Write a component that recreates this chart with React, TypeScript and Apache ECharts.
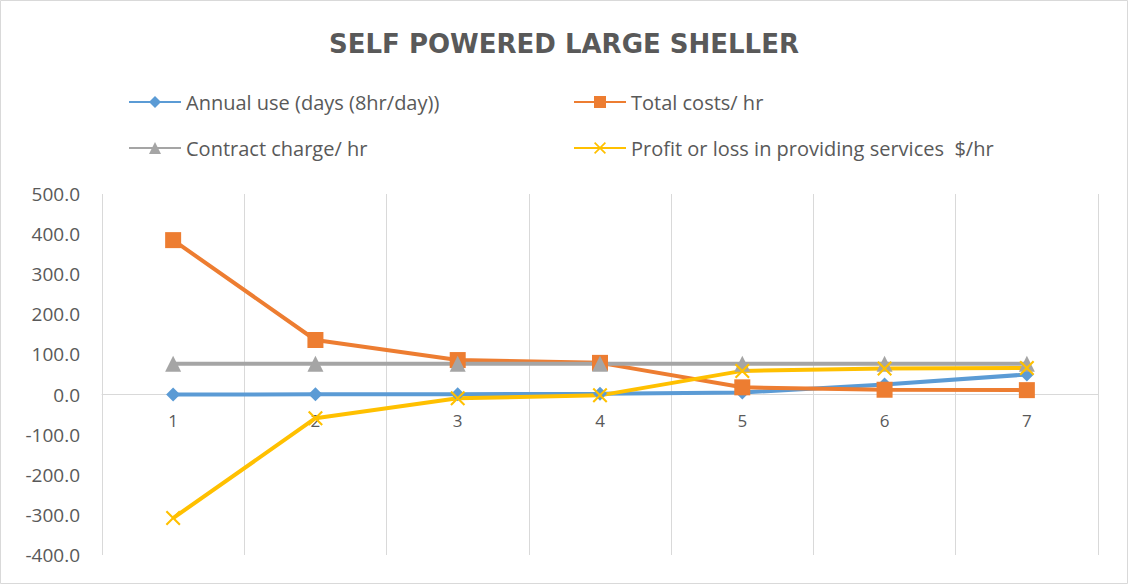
import React, { useEffect, useRef } from "react";
import * as echarts from "echarts";

const categories = ["1", "2", "3", "4", "5", "6", "7"];
const annualUse = [0, 0.5, 1, 2, 5, 25, 50];
const totalCosts = [385, 136, 86, 79, 18, 12, 11];
const contractCharge = [77, 77, 77, 77, 77, 77, 77];
const profitLoss = [-308, -59, -9, -2, 59, 65, 66];
const seriesNames = [
  "Annual use (days (8hr/day))",
  "Total costs/ hr",
  "Contract charge/ hr",
  "Profit or loss in providing services  $/hr",
];
const colors = ["#5B9BD5", "#ED7D31", "#A5A5A5", "#FFC000"];

const FONT = "'Open Sans', sans-serif";
const CROSS = "path://M0,1 L1,0 L5,4 L9,0 L10,1 L6,5 L10,9 L9,10 L5,6 L1,10 L0,9 L4,5 Z";

export default function App() {
  const ref = useRef<HTMLDivElement>(null);
  useEffect(() => {
    document.body.style.margin = "0";
    const chart = echarts.init(ref.current!, null, { renderer: "svg" });
    const legendPos = [
      { left: 128, top: 92 },
      { left: 573, top: 92 },
      { left: 128, top: 138 },
      { left: 573, top: 138 },
    ];
    chart.setOption({
      animation: false,
      title: {
        text: "SELF POWERED LARGE SHELLER",
        left: "center",
        top: 26,
        textStyle: { fontFamily: "'DejaVu Sans', sans-serif", fontWeight: "bold", fontSize: 26, color: "#595959" },
      },
      legend: seriesNames.map((n, i) => ({
        data: [n],
        ...legendPos[i],
        padding: 0,
        itemWidth: 52,
        itemHeight: 15,
        textStyle: { fontFamily: FONT, fontSize: 20, color: "#595959" },
      })),
      graphic: [
        {
          type: "rect",
          shape: { x: 0.5, y: 0.5, width: 1127, height: 583 },
          style: { fill: "none", stroke: "#d9d9d9", lineWidth: 1 },
        },
      ],
      grid: { left: 102, right: 30, top: 194, bottom: 29, containLabel: false },
      xAxis: {
        type: "category",
        data: categories,
        boundaryGap: true,
        axisLine: { onZero: true, lineStyle: { color: "#d9d9d9", width: 1 } },
        axisTick: { show: false },
        splitLine: { show: true, lineStyle: { color: "#d9d9d9", width: 1 } },
        axisLabel: { margin: -143, fontFamily: FONT, fontSize: 17, color: "#595959" },
      },
      yAxis: {
        type: "value",
        min: -400,
        max: 500,
        interval: 100,
        axisLine: { show: false },
        axisTick: { show: false },
        splitLine: { show: false },
        axisLabel: {
          margin: 22,
          fontFamily: FONT,
          fontSize: 19,
          color: "#595959",
          formatter: (v: number) => v.toFixed(1),
        },
      },
      series: [
        { name: seriesNames[0], type: "line", data: annualUse, symbol: "diamond", symbolSize: 14 },
        { name: seriesNames[1], type: "line", data: totalCosts, symbol: "rect", symbolSize: 16 },
        { name: seriesNames[2], type: "line", data: contractCharge, symbol: "triangle", symbolSize: 16 },
        { name: seriesNames[3], type: "line", data: profitLoss, symbol: CROSS, symbolSize: 15 },
      ].map((s, i) => ({
        ...s,
        color: colors[i],
        lineStyle: { width: 4, color: colors[i] },
        itemStyle: { color: colors[i] },
        showAllSymbol: true,
      })),
    });
    return () => chart.dispose();
  }, []);
  return <div ref={ref} style={{ width: 1128, height: 584 }} />;
}
